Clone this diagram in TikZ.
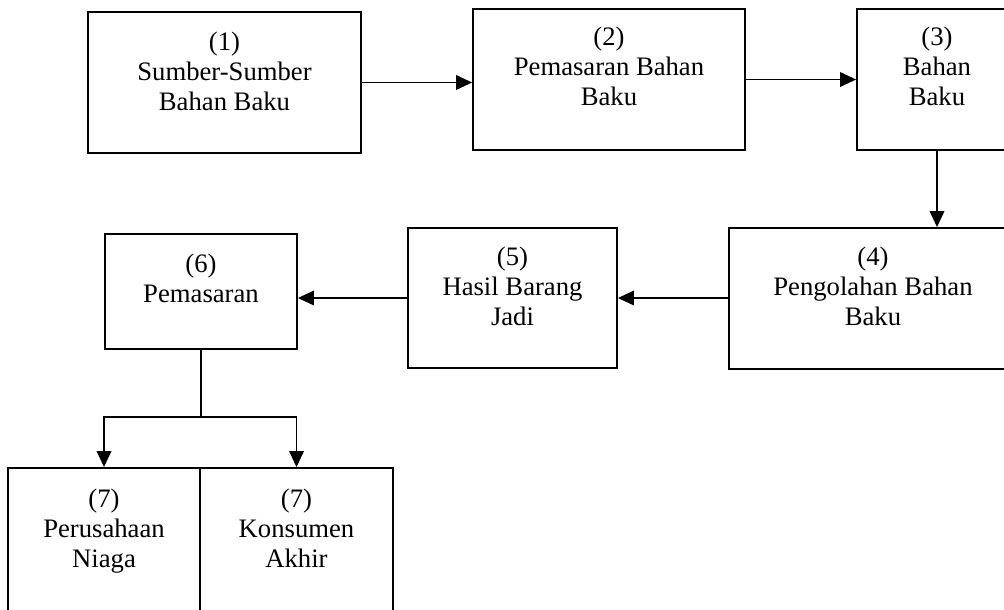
\documentclass[tikz,border=0pt]{standalone}
\usepackage{fontspec}
\setmainfont{Liberation Serif}
\usetikzlibrary{arrows.meta,fit}
\begin{document}
\begin{tikzpicture}[x=0.75pt,y=-0.75pt,
  box/.style={draw, line width=1.4pt, inner sep=0pt},
  lbl/.style={align=center, anchor=north, inner sep=0pt, font=\fontsize{20}{22.5}\selectfont},
  arr/.style={line width=1.1pt, -{Triangle[length=12pt,width=11pt]}},
  ln/.style={line width=1.1pt}]
\clip (0,0) rectangle (1004,610);
% boxes
\node[box, fit={(88,12) (361,153)}] (b1) {};
\node[box, fit={(473,9) (745,150)}] (b2) {};
\node[box, fit={(857,9) (1017,150)}] (b3) {};
\node[box, fit={(729,228) (1017,369)}] (b4) {};
\node[box, fit={(408,228) (617,368)}] (b5) {};
\node[box, fit={(105,234) (297,349)}] (b6) {};
\node[box, fit={(8,468) (200,640)}] (b7a) {};
\node[box, fit={(200,468) (393,640)}] (b7b) {};
% labels
\node[lbl] (t1) at (224.5,31.5) {(1)\\Sumber-Sumber\\Bahan Baku};
\node[lbl] (t2) at (609,26.5) {(2)\\Pemasaran Bahan\\Baku};
\node[lbl] (t3) at (937,26.5) {(3)\\Bahan\\Baku};
\node[lbl] (t4) at (873,246.5) {(4)\\Pengolahan Bahan\\Baku};
\node[lbl] (t5) at (512.5,246.5) {(5)\\Hasil Barang\\Jadi};
\node[lbl] (t6) at (201,253.5) {(6)\\Pemasaran};
\node[lbl] (t7a) at (104,488.5) {(7)\\Perusahaan\\Niaga};
\node[lbl] (t7b) at (296.5,488.5) {(7)\\Konsumen\\Akhir};
% connectors
\draw[arr] (b1.east) -- (b1.east -| b2.west);
\draw[arr] (b2.east) -- (b2.east -| b3.west);
\draw[arr] (b3.south) -- (b3.south |- b4.north);
\draw[arr] (b5.east -| b4.west) -- (b5.east);
\draw[arr] (b5.west) -- (b5.west -| b6.east);
\coordinate (sp) at (201,417);
\draw[ln] (b6.south) -- (sp);
\draw[arr] (sp) -| (b7a.north);
\draw[arr] (sp) -| (b7b.north);
\end{tikzpicture}
\end{document}
